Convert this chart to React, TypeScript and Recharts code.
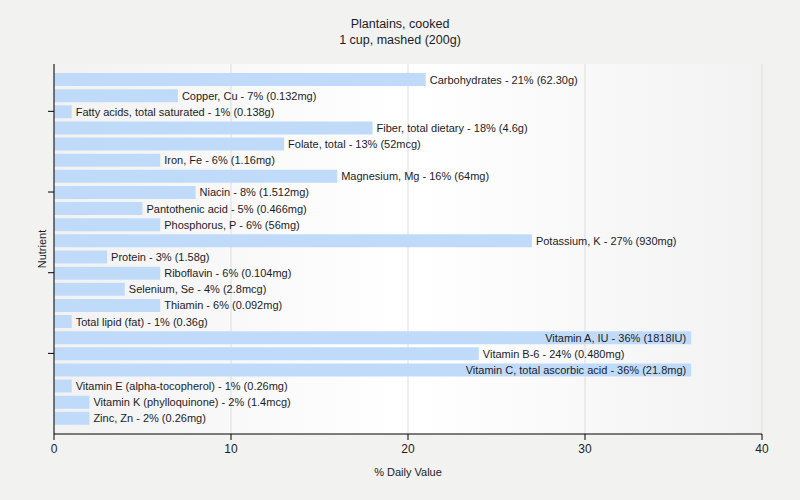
import { BarChart, Bar, XAxis, YAxis, CartesianGrid, LabelList } from 'recharts';

const nutrients = [
  'Carbohydrates',
  'Copper, Cu',
  'Fatty acids, total saturated',
  'Fiber, total dietary',
  'Folate, total',
  'Iron, Fe',
  'Magnesium, Mg',
  'Niacin',
  'Pantothenic acid',
  'Phosphorus, P',
  'Potassium, K',
  'Protein',
  'Riboflavin',
  'Selenium, Se',
  'Thiamin',
  'Total lipid (fat)',
  'Vitamin A, IU',
  'Vitamin B-6',
  'Vitamin C, total ascorbic acid',
  'Vitamin E (alpha-tocopherol)',
  'Vitamin K (phylloquinone)',
  'Zinc, Zn',
];

const dailyValues = [21, 7, 1, 18, 13, 6, 16, 8, 5, 6, 27, 3, 6, 4, 6, 1, 36, 24, 36, 1, 2, 2];

const amounts = [
  '62.30g', '0.132mg', '0.138g', '4.6g', '52mcg', '1.16mg', '64mg', '1.512mg',
  '0.466mg', '56mg', '930mg', '1.58g', '0.104mg', '2.8mcg', '0.092mg', '0.36g',
  '1818IU', '0.480mg', '21.8mg', '0.26mg', '1.4mcg', '0.26mg',
];

const xTicks = [0, 10, 20, 30, 40];

const chartData = nutrients.map((name, i) => ({
  name,
  value: dailyValues[i],
  label: `${name} - ${dailyValues[i]}% (${amounts[i]})`,
}));

const FONT = '"Liberation Sans", Arial, sans-serif';
const TEXT = '#1c1c28';
const WIDTH = 800;
const HEIGHT = 500;
const MARGIN = { top: 64, right: 38, bottom: 26, left: 0 };
const PLOT_RIGHT = WIDTH - MARGIN.right;

let ctx: CanvasRenderingContext2D | null = null;
function textWidth(s: string) {
  if (!ctx) ctx = document.createElement('canvas').getContext('2d');
  if (!ctx) return s.length * 5.5;
  ctx.font = `11px ${FONT}`;
  return ctx.measureText(s).width;
}

// label goes after the bar, or inside it when there is no room left
function BarLabel(props: any) {
  const { x, y, width, height, value } = props;
  const end = Number(x) + Number(width);
  const inside = end + 4 + textWidth(String(value)) > PLOT_RIGHT;
  return (
    <text
      x={inside ? end - 5 : end + 4}
      y={Number(y) + Number(height) / 2 + 4}
      textAnchor={inside ? 'end' : 'start'}
      fontSize={11}
      fontFamily={FONT}
      fill={TEXT}
    >
      {value}
    </text>
  );
}

// only every fifth category gets a tick mark, no text
function NutrientTick(props: any) {
  const { x, y, index } = props;
  if (index % 5 !== 2) return <g />;
  return <line x1={x - 6} x2={x} y1={y} y2={y} stroke="#000" />;
}

export default function App() {
  return (
    <div style={{ width: WIDTH, height: HEIGHT, background: '#f2f2f0', position: 'relative' }}>
      <style>{`body{margin:0;background:#f2f2f0}`}</style>
      <svg width={WIDTH} height={60} style={{ position: 'absolute', left: 0, top: 0 }}>
        <text x={400} y={28} textAnchor="middle" fontSize={12.5} fontFamily={FONT} fill={TEXT}>
          Plantains, cooked
        </text>
        <text x={400} y={44} textAnchor="middle" fontSize={12.5} fontFamily={FONT} fill={TEXT}>
          1 cup, mashed (200g)
        </text>
      </svg>
      <BarChart
        width={WIDTH}
        height={HEIGHT}
        data={chartData}
        layout="vertical"
        margin={MARGIN}
        style={{ position: 'absolute', left: 0, top: 0 }}
      >
        <defs>
          <linearGradient id="plotBg" x1="0" y1="0" x2="1" y2="0">
            <stop offset="0%" stopColor="#f2f2f2" />
            <stop offset="50%" stopColor="#ffffff" />
            <stop offset="100%" stopColor="#f2f2f2" />
          </linearGradient>
        </defs>
        <CartesianGrid horizontal={false} stroke="#dddddd" fill="url(#plotBg)" />
        <XAxis
          type="number"
          domain={[0, 40]}
          ticks={xTicks}
          height={40}
          stroke="#000"
          tickSize={6}
          tickMargin={4}
          tick={{ fontSize: 12, fontFamily: FONT, fill: TEXT }}
          label={({ viewBox }: any) => (
            <text
              x={viewBox.x + viewBox.width / 2}
              y={viewBox.y + 42}
              textAnchor="middle"
              fontSize={11}
              fontFamily={FONT}
              fill={TEXT}
            >
              % Daily Value
            </text>
          )}
        />
        <YAxis
          type="category"
          dataKey="name"
          width={54}
          stroke="#000"
          tickSize={0}
          tickMargin={0}
          tick={NutrientTick}
          interval={0}
          padding={{ top: 7, bottom: 8 }}
          label={({ viewBox }: any) => {
            const cx = viewBox.x + viewBox.width - 8;
            const cy = viewBox.y + viewBox.height / 2;
            return (
              <text
                x={cx}
                y={cy}
                transform={`rotate(-90 ${cx} ${cy})`}
                textAnchor="middle"
                fontSize={11}
                fontFamily={FONT}
                fill={TEXT}
              >
                Nutrient
              </text>
            );
          }}
        />
        <Bar dataKey="value" fill="#c0dbfa" barSize={13} isAnimationActive={false}>
          <LabelList dataKey="label" content={BarLabel} />
        </Bar>
      </BarChart>
    </div>
  );
}
